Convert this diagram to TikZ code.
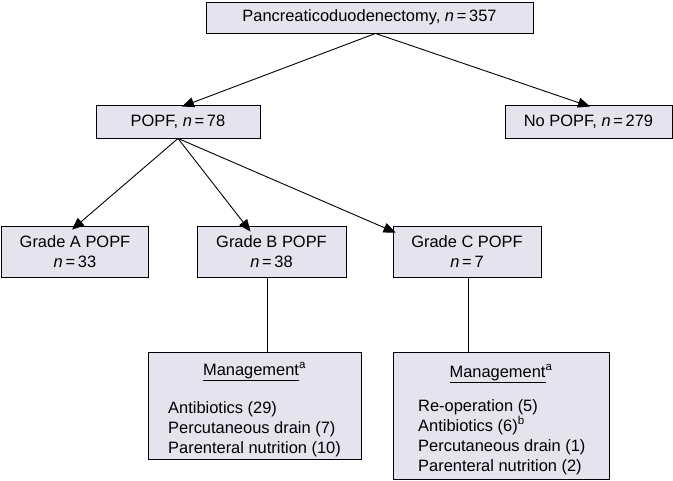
\documentclass[tikz,border=0pt]{standalone}
\usepackage{fontspec}
\setmainfont{Liberation Sans}
\usetikzlibrary{arrows.meta}
\definecolor{boxfill}{RGB}{228,227,238}
\begin{document}
\begin{tikzpicture}[x=1bp,y=-1bp,
  box/.style={draw=black,line width=0.9bp,fill=boxfill,inner sep=0pt,font=\fontsize{16.5}{20}\selectfont,align=center},
  txt/.style={font=\fontsize{16.5}{20}\selectfont,inner sep=0pt},
  arr/.style={line width=0.9bp,-{Triangle[length=12bp,width=10bp]}},
  ln/.style={line width=0.9bp}]
\useasboundingbox (0,0) rectangle (673,481);
\node[box,minimum width=327bp,minimum height=31bp] (top) at (369.5,17.5) {Pancreaticoduodenectomy, \textit{n}\,=\,357};
\node[box,minimum width=164bp,minimum height=33bp] (popf) at (178,121.5) {POPF, \textit{n}\,=\,78};
\node[box,minimum width=167bp,minimum height=33bp] (nopopf) at (588.5,121.5) {No POPF, \textit{n}\,=\,279};
\node[box,minimum width=147bp,minimum height=51bp] (ga) at (75,251.5) {Grade A POPF\\\textit{n}\,=\,33};
\node[box,minimum width=149bp,minimum height=51bp] (gb) at (271.5,251.5) {Grade B POPF\\\textit{n}\,=\,38};
\node[box,minimum width=148bp,minimum height=51bp] (gc) at (467,251.5) {Grade C POPF\\\textit{n}\,=\,7};
\node[box,minimum width=213bp,minimum height=107bp] (m1) at (254.5,405.5) {};
\node[box,minimum width=216bp,minimum height=127bp] (m2) at (501,416) {};
\node[txt,anchor=base] (m1h) at (254.5,375) {\underline{Management}\textsuperscript{a}};
\node[txt,anchor=base west] (m1a) at (168,413) {Antibiotics (29)};
\node[txt,anchor=base west] (m1b) at (168,433) {Percutaneous drain (7)};
\node[txt,anchor=base west] (m1c) at (168,453) {Parenteral nutrition (10)};
\node[txt,anchor=base] (m2h) at (501,377) {\underline{Management}\textsuperscript{a}};
\node[txt,anchor=base west] (m2a) at (418,411) {Re-operation (5)};
\node[txt,anchor=base west] (m2b) at (418,431) {Antibiotics (6)\textsuperscript{b}};
\node[txt,anchor=base west] (m2c) at (418,451) {Percutaneous drain (1)};
\node[txt,anchor=base west] (m2d) at (418,471) {Parenteral nutrition (2)};
\coordinate (topout) at ([xshift=6bp]top.south);
\coordinate (tpopf) at ([xshift=4bp,yshift=-2bp]popf.north);
\coordinate (tnopopf) at ([xshift=1.5bp,yshift=-2bp]nopopf.north);
\coordinate (tga) at ([xshift=-3bp,yshift=-4bp]ga.north);
\coordinate (tgb) at ([xshift=-21bp,yshift=-6bp]gb.north);
\coordinate (tgc) at ([xshift=3bp,yshift=-7bp]gc.north west);
\draw[arr] (topout) -- (tpopf);
\draw[arr] (topout) -- (tnopopf);
\draw[arr] (popf.south) -- (tga);
\draw[arr] (popf.south) -- (tgb);
\draw[arr] (popf.south) -- (tgc);
\draw[ln] ([xshift=-4bp]gb.south) -- ([xshift=-4bp]gb.south |- m1.north);
\draw[ln] ([xshift=1bp]gc.south) -- ([xshift=1bp]gc.south |- m2.north);
\end{tikzpicture}
\end{document}
